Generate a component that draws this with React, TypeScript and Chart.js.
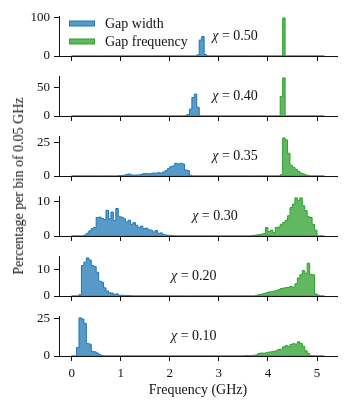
import React, { useEffect, useRef } from 'react';
import { Chart, registerables } from 'chart.js';

Chart.register(...registerables);

const FONT = '"Liberation Serif", "Times New Roman", serif';
const TEXT = '#111';
const BLUE = '#1f77b4';
const BLUE_FILL = 'rgba(31,119,180,0.75)';
const GREEN = '#2ca02c';
const GREEN_FILL = 'rgba(44,160,44,0.75)';

// Histogram bins: 0.05 GHz wide, from 0 to 5.15 GHz
const binWidth = 0.05;
const binCount = 103;

const xTicks = [0, 1, 2, 3, 4, 5];
const chiLabels = ['0.50', '0.40', '0.35', '0.30', '0.20', '0.10'];
const yTickSteps = [100, 50, 25, 10, 10, 25];
const chiLabelX = [3.33, 3.33, 3.33, 2.92, 2.49, 2.49];
const seriesNames = ['Gap width', 'Gap frequency'];

// χ = 0.50
const width050Start = 2.55;
const width050 = [3, 42, 51, 4];
const freq050Start = 4.3;
const freq050 = [100];

// χ = 0.40
const width040Start = 2.3;
const width040 = [0.5, 2.5, 12, 32, 38, 15];
const freq040Start = 4.25;
const freq040 = [34, 66];

// χ = 0.35
const width035Start = 0.95;
const width035 = [0.3, 0.5, 0.5, 1.2, 1.5, 0.8, 0.6, 0.8, 0.8, 1.2, 1.8, 1.8, 1.5, 1.8, 2.2, 2.0, 2.5, 2.2, 3.0, 4.0, 5.5, 7.0, 7.5, 9.5, 9.0, 9.5, 9.0, 4.5, 4.0, 0.5];
const freq035Start = 4.25;
const freq035 = [1, 28.5, 27, 17, 8, 6.5, 5, 3.5, 2.2, 1.5, 0.8, 0.4];

// χ = 0.30
const width030Start = 0.25;
const width030 = [0.3, 0.8, 1.5, 2.2, 2.5, 5.4, 5.5, 5.1, 4.8, 7.5, 5.0, 7.0, 4.5, 8.0, 5.6, 5.5, 5.0, 4.1, 4.6, 3.4, 3.9, 3.1, 2.4, 2.9, 2.2, 2.3, 1.8, 1.7, 1.2, 1.6, 0.8, 0.9, 0.4, 0.3, 0.2, 0.2, 0.1];
const freq030Start = 3.65;
const freq030 = [0.1, 0.2, 0.3, 0.4, 0.5, 0.7, 2.5, 1.3, 1.7, 1.0, 2.5, 2.6, 3.4, 3.9, 4.6, 5.9, 8.3, 9.3, 11.1, 10.3, 11.1, 8.8, 7.4, 5.6, 5.4, 3.4, 1.7];

// χ = 0.20
const width020Start = 0.15;
const width020 = [0.5, 11.5, 12.8, 14.4, 13.6, 11.5, 11.1, 9, 5.6, 5.2, 3.1, 1.9, 1.2, 1.1, 0.6, 0.8, 0.25, 0.3, 0.2, 0.2, 0.2, 0.1];
const freq020Start = 3.75;
const freq020 = [0.3, 0.5, 0.7, 0.9, 1.2, 1.5, 1.6, 1.8, 2.0, 2.4, 2.8, 3.0, 3.2, 3.3, 3.6, 3.3, 4.6, 6.8, 8.0, 9.6, 8.6, 12.4, 8.2, 8.0, 0.8, 0.3];

// χ = 0.10
const width010Start = 0.1;
const width010 = [5.7, 25.7, 25, 22, 8.5, 8, 3, 2.8, 2, 0.9, 0.2];
const freq010Start = 3.5;
const freq010 = [0.2, 0.3, 0.3, 0.4, 0.5, 0.8, 1.8, 2.0, 1.9, 2.2, 2.6, 2.8, 3.0, 3.5, 4.4, 4.6, 6.2, 7.0, 6.5, 7.8, 8.3, 8.0, 9.6, 8.5, 6.5, 3.5, 1.8, 0.3];

const panels = [
  { ws: width050Start, w: width050, fs: freq050Start, f: freq050 },
  { ws: width040Start, w: width040, fs: freq040Start, f: freq040 },
  { ws: width035Start, w: width035, fs: freq035Start, f: freq035 },
  { ws: width030Start, w: width030, fs: freq030Start, f: freq030 },
  { ws: width020Start, w: width020, fs: freq020Start, f: freq020 },
  { ws: width010Start, w: width010, fs: freq010Start, f: freq010 },
];

function expand(start: number, values: number[]) {
  const arr = new Array(binCount).fill(0);
  const s = Math.round(start / binWidth);
  values.forEach((v, k) => {
    arr[s + k] = v;
  });
  return arr;
}

function toPoints(arr: number[]) {
  const pts = [{ x: 0, y: 0 }];
  arr.forEach((v, i) => pts.push({ x: i * binWidth, y: v }));
  pts.push({ x: binCount * binWidth, y: 0 });
  return pts;
}

function Panel({ index, top, height, isLast }: { index: number; top: number; height: number; isLast: boolean }) {
  const ref = useRef<HTMLCanvasElement>(null);
  useEffect(() => {
    const p = panels[index];
    const blue = toPoints(expand(p.ws, p.w));
    const green = toPoints(expand(p.fs, p.f));
    const yMax = Math.max(...p.w, ...p.f) * 1.05;
    const xMax = binCount * binWidth;
    const xMargin = 0.05 * xMax;

    const chiPlugin = {
      id: 'chiLabel',
      afterDatasetsDraw(chart: any) {
        const { ctx, chartArea, scales } = chart;
        const x = scales.x.getPixelForValue(chiLabelX[index]);
        const y = (chartArea.top + chartArea.bottom) / 2;
        const italic = `italic 14px ${FONT}`;
        const normal = `14px ${FONT}`;
        const rest = ' = ' + chiLabels[index];
        ctx.save();
        ctx.textBaseline = 'middle';
        ctx.fillStyle = TEXT;
        ctx.font = italic;
        const w1 = ctx.measureText('χ').width;
        ctx.font = normal;
        const w2 = ctx.measureText(rest).width;
        const x0 = x - (w1 + w2) / 2;
        ctx.font = italic;
        ctx.fillText('χ', x0, y);
        ctx.font = normal;
        ctx.fillText(rest, x0 + w1, y);
        ctx.restore();
      },
    };

    const legendPlugin = {
      id: 'histLegend',
      afterDraw(chart: any) {
        if (index !== 0) return;
        const { ctx, chartArea } = chart;
        const x0 = chartArea.left + 10;
        const items = [
          { name: seriesNames[0], fill: BLUE_FILL, edge: BLUE, y: chartArea.top + 7.5 },
          { name: seriesNames[1], fill: GREEN_FILL, edge: GREEN, y: chartArea.top + 25.5 },
        ];
        ctx.save();
        items.forEach((it) => {
          ctx.fillStyle = it.fill;
          ctx.fillRect(x0, it.y - 2.5, 26, 5);
          ctx.strokeStyle = it.edge;
          ctx.lineWidth = 1;
          ctx.strokeRect(x0 + 0.5, it.y - 2.5, 25, 5);
          ctx.fillStyle = TEXT;
          ctx.font = `14px ${FONT}`;
          ctx.textBaseline = 'middle';
          ctx.fillText(it.name, x0 + 36, it.y + 0.5);
        });
        ctx.restore();
      },
    };

    const chart = new Chart(ref.current as HTMLCanvasElement, {
      type: 'line',
      data: {
        datasets: [
          {
            label: seriesNames[1],
            data: green,
            borderColor: GREEN,
            backgroundColor: GREEN_FILL,
            fill: 'origin',
            stepped: true,
            pointRadius: 0,
            borderWidth: 1,
            order: 0,
          },
          {
            label: seriesNames[0],
            data: blue,
            borderColor: BLUE,
            backgroundColor: BLUE_FILL,
            fill: 'origin',
            stepped: true,
            pointRadius: 0,
            borderWidth: 1,
            order: 1,
          },
        ],
      },
      options: {
        animation: false,
        responsive: false,
        maintainAspectRatio: false,
        devicePixelRatio: 1,
        events: [],
        layout: { padding: { top: 16, right: 13, left: 0, bottom: 0 } },
        plugins: {
          legend: { display: false },
          tooltip: { enabled: false },
        },
        scales: {
          x: {
            type: 'linear',
            min: -xMargin,
            max: xMax + xMargin,
            afterBuildTicks: (s: any) => {
              s.ticks = xTicks.map((v) => ({ value: v }));
            },
            afterFit: (s: any) => {
              s.height = isLast ? 44 : 6;
              s.paddingLeft = 0;
              s.paddingRight = 0;
            },
            grid: { drawOnChartArea: false, drawTicks: true, tickLength: 5, color: TEXT },
            border: { display: true, color: TEXT, width: 1 },
            ticks: {
              display: isLast,
              autoSkip: false,
              maxRotation: 0,
              padding: 5,
              color: TEXT,
              font: { family: FONT, size: 13 },
            },
            title: {
              display: isLast,
              text: 'Frequency (GHz)',
              color: TEXT,
              font: { family: FONT, size: 14 },
              padding: { top: 0, bottom: 1 },
            },
          },
          y: {
            min: 0,
            max: yMax,
            afterBuildTicks: (s: any) => {
              s.ticks = [{ value: 0 }, { value: yTickSteps[index] }];
            },
            afterFit: (s: any) => {
              s.width = 59;
              s.paddingTop = 0;
              s.paddingBottom = 0;
            },
            grid: { drawOnChartArea: false, drawTicks: true, tickLength: 5, color: TEXT },
            border: { display: true, color: TEXT, width: 1 },
            ticks: {
              autoSkip: false,
              padding: 4,
              color: TEXT,
              font: { family: FONT, size: 13 },
            },
          },
        },
      } as any,
      plugins: [chiPlugin, legendPlugin],
    });
    return () => chart.destroy();
  }, [index, isLast]);
  return (
    <canvas
      ref={ref}
      width={350}
      height={height}
      style={{ position: 'absolute', left: 0, top, width: 350, height }}
    />
  );
}

export default function App() {
  return (
    <div
      style={{
        position: 'fixed',
        left: 0,
        top: 0,
        width: 350,
        height: 400,
        background: '#fff',
        overflow: 'hidden',
      }}
    >
      {panels.map((_, i) => (
        <Panel key={i} index={i} top={60 * i} height={i === panels.length - 1 ? 100 : 62} isLast={i === panels.length - 1} />
      ))}
      <div
        style={{
          position: 'absolute',
          left: 19,
          top: 186,
          transform: 'translate(-50%, -50%) rotate(-90deg)',
          whiteSpace: 'nowrap',
          fontFamily: FONT,
          fontSize: 14,
          color: TEXT,
          lineHeight: 1,
        }}
      >
        Percentage per bin of 0.05 GHz
      </div>
    </div>
  );
}
